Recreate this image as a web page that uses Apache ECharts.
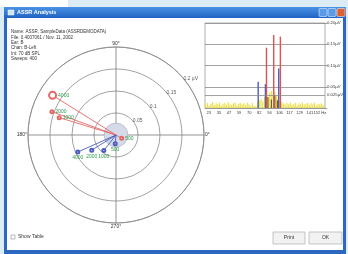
<!DOCTYPE html>
<html>
<head>
<meta charset="utf-8">
<title>ASSR Analysis</title>
<script src="https://cdn.jsdelivr.net/npm/echarts@6/dist/echarts.min.js"></script>
<style>
  html, body { margin: 0; padding: 0; background: #dbecf4; }
  #chart { width: 348px; height: 254px; }
</style>
</head>
<body>
<div id="chart"></div>
<script>
// header text
const infoLines = [
  'Name: ASSR, SampleData (ASSRDEMODATA)',
  'File: 0.4007061 / Nov. 11, 2002',
  'Ear: B',
  'Chan: B-Left',
  'Int: 70 dB SPL',
  'Sweeps: 400'
];

// polar plot
const ringValues = [0.05, 0.1, 0.15, 0.2];
const ringLabels = ['0.05', '0.1', '0.15', '0.2 µV'];
const ringLabelAngle = 40;
const noiseLevel = 0.027;

const redFreqLabels = ['4000', '2000', '1000', '500'];
const redAmp = [0.17, 0.155, 0.135, 0.015];
const redPhase = [148, 160, 163, 330];

const blueFreqLabels = ['4000', '2000', '1000', '500'];
const blueAmp = [0.095, 0.065, 0.045, 0.02];
const bluePhase = [204, 212, 232, 265];

// spectrum
const xTickValues = [23.4, 35.1, 46.8, 58.5, 70.2, 81.9, 93.6, 105.3, 117.0, 128.7, 140.4, 152.1];
const xTickLabels = ['23', '35', '47', '59', '70', '82', '94', '106', '117', '129', '141', '152 Hz'];

const noiseFreq = [20, 22, 24, 26, 28, 30, 32, 34, 36, 38, 40, 42, 44, 46, 48, 50, 52, 54, 56, 58,
  60, 62, 64, 66, 68, 70, 72, 74, 76, 78, 80, 82, 84, 86, 88, 90, 92, 94, 96, 98,
  100, 102, 104, 106, 108, 110, 112, 114, 116, 118, 120, 122, 124, 126, 128, 130, 132, 134, 136, 138,
  140, 142, 144, 146, 148, 150, 152, 154, 156];
const noiseAmp = [0.008, 0.012, 0.006, 0.010, 0.014, 0.007, 0.011, 0.009, 0.013, 0.006, 0.010, 0.012, 0.008, 0.014, 0.009, 0.007, 0.011, 0.013, 0.006, 0.010,
  0.012, 0.008, 0.011, 0.007, 0.013, 0.009, 0.006, 0.012, 0.005, 0.004, 0.014, 0.018, 0.022, 0.016, 0.026, 0.030, 0.024, 0.036, 0.040, 0.032,
  0.038, 0.028, 0.022, 0.018, 0.014, 0.011, 0.008, 0.012, 0.009, 0.013, 0.007, 0.010, 0.012, 0.006, 0.011, 0.009, 0.013, 0.008, 0.010, 0.012,
  0.007, 0.011, 0.009, 0.013, 0.006, 0.010, 0.008, 0.011, 0.007];

const darkFreq = [92, 96, 100, 103];
const darkAmp = [0.026, 0.020, 0.030, 0.018];
const blueBarFreq = [80.6, 89.0, 104.4];
const blueBarAmp = [0.062, 0.056, 0.093];
const redBarFreq = [90.2, 98.6, 106.3];
const redBarAmp = [0.142, 0.172, 0.168];

const chart = echarts.init(document.getElementById('chart'));

const FONT = 'Liberation Sans';

function pairs(xs, ys) {
  return xs.map((x, i) => [x, ys[i]]);
}

function vectorSeries(labels, amps, phases, color, isRed) {
  return labels.map((lab, i) => ({
    type: 'line',
    coordinateSystem: 'polar',
    polarIndex: 0,
    z: 5,
    silent: true,
    lineStyle: { color: color, width: 0.9 },
    itemStyle: { color: color },
    data: [
      { value: [0, phases[i]], symbol: 'none' },
      {
        value: [amps[i], phases[i]],
        symbol: 'emptyCircle',
        symbolSize: i === 0 && isRed ? 7 : 3,
        label: {
          show: true,
          formatter: lab,
          position: isRed ? 'right' : 'bottom',
          distance: 1,
          fontSize: 5,
          fontFamily: FONT,
          color: '#2f9a4a'
        }
      }
    ]
  }));
}

const graphics = [
  { type: 'rect', shape: { x: 0, y: 0, width: 348, height: 254 }, style: { fill: '#dbecf4' }, z: -10 },
  { type: 'rect', shape: { x: 0, y: 0, width: 68, height: 7 }, style: { fill: '#ffffff' }, z: -10 },
  { type: 'rect', shape: { x: 4, y: 7, width: 342, height: 247 }, style: { fill: '#2c68bf' }, z: -9 },
  {
    type: 'rect', shape: { x: 4, y: 7, width: 342, height: 11 }, z: -8,
    style: {
      fill: new echarts.graphic.LinearGradient(0, 0, 0, 1, [
        { offset: 0, color: '#4a92e4' }, { offset: 1, color: '#2063c4' }
      ])
    }
  },
  { type: 'rect', shape: { x: 7, y: 18, width: 336, height: 232 }, style: { fill: '#ffffff' }, z: -8 },
  { type: 'rect', shape: { x: 8, y: 10, width: 6, height: 5 }, style: { fill: '#cfe3f7', stroke: '#ffffff', lineWidth: 0.5 }, z: -7 },
  { type: 'text', x: 17, y: 12.5, style: { text: 'ASSR Analysis', fill: '#ffffff', font: 'bold 5.5px ' + FONT, verticalAlign: 'middle' }, z: -7 },
  { type: 'rect', shape: { x: 319, y: 8.5, width: 8, height: 8, r: 1 }, style: { fill: '#5a9ae8', stroke: '#ffffff', lineWidth: 0.5 }, z: -7 },
  { type: 'rect', shape: { x: 328, y: 8.5, width: 8, height: 8, r: 1 }, style: { fill: '#5a9ae8', stroke: '#ffffff', lineWidth: 0.5 }, z: -7 },
  { type: 'rect', shape: { x: 337, y: 8.5, width: 8, height: 8, r: 1 }, style: { fill: '#e0602e', stroke: '#ffffff', lineWidth: 0.5 }, z: -7 },
  { type: 'rect', shape: { x: 11, y: 235, width: 4, height: 4 }, style: { fill: '#ffffff', stroke: '#777777', lineWidth: 0.5 }, z: -7 },
  { type: 'text', x: 18, y: 237, style: { text: 'Show Table', fill: '#333333', font: '5px ' + FONT, verticalAlign: 'middle' }, z: -7 },
  { type: 'rect', shape: { x: 273, y: 232, width: 32, height: 12 }, style: { fill: '#f2f2f2', stroke: '#b0b0b0', lineWidth: 0.7 }, z: -7 },
  { type: 'text', x: 289, y: 238, style: { text: 'Print', fill: '#333333', font: '5px ' + FONT, align: 'center', verticalAlign: 'middle' }, z: -7 },
  { type: 'rect', shape: { x: 309, y: 232, width: 33, height: 12 }, style: { fill: '#f2f2f2', stroke: '#b0b0b0', lineWidth: 0.7 }, z: -7 },
  { type: 'text', x: 325.5, y: 238, style: { text: 'OK', fill: '#333333', font: '5px ' + FONT, align: 'center', verticalAlign: 'middle' }, z: -7 }
];
infoLines.forEach((t, i) => {
  graphics.push({
    type: 'text', x: 11, y: 32 + i * 5.4, z: -7,
    style: { text: t, fill: '#333333', font: '4.5px ' + FONT, verticalAlign: 'middle' }
  });
});

const option = {
  animation: false,
  graphic: graphics,
  polar: [
    { center: [116, 135], radius: 88 },
    { center: [116, 135], radius: 88 }
  ],
  angleAxis: [
    {
      polarIndex: 0,
      type: 'value', min: 0, max: 360, interval: 90,
      startAngle: 0, clockwise: false,
      axisLine: { lineStyle: { color: '#8a8a8a', width: 0.8 } },
      axisTick: { show: false },
      splitLine: { lineStyle: { color: '#7a7a7a', width: 0.8 } },
      axisLabel: {
        margin: 1, fontSize: 5, fontFamily: FONT, color: '#333333',
        formatter: v => (v === 360 ? '' : v + '°')
      }
    },
    {
      polarIndex: 1,
      type: 'category', data: ['noise'], show: false,
      startAngle: 0, clockwise: false
    }
  ],
  radiusAxis: [
    {
      polarIndex: 0,
      type: 'value', min: 0, max: 0.2, interval: 0.05,
      axisLine: { show: false }, axisTick: { show: false }, axisLabel: { show: false },
      splitLine: { show: true, lineStyle: { color: '#8a8a8a', width: 0.8 } }
    },
    { polarIndex: 1, type: 'value', min: 0, max: 0.2, show: false }
  ],
  grid: { left: 205, top: 23, width: 120, height: 85, show: true, borderColor: '#999999', borderWidth: 0.8 },
  xAxis: {
    type: 'value', min: 19, max: 158,
    axisLine: { lineStyle: { color: '#999999', width: 0.8 } },
    axisTick: { show: false },
    splitLine: { show: false },
    axisLabel: {
      customValues: xTickValues,
      hideOverlap: false, showMaxLabel: true, showMinLabel: true, interval: 0,
      margin: 3, fontSize: 4, fontFamily: FONT, color: '#333333',
      formatter: v => {
        const i = xTickValues.findIndex(t => Math.abs(t - v) < 0.01);
        return i >= 0 ? xTickLabels[i] : '';
      }
    }
  },
  yAxis: {
    type: 'value', position: 'right', min: 0, max: 0.2, interval: 0.05,
    axisLine: { show: false },
    axisTick: { show: true, length: 2, lineStyle: { color: '#999999' } },
    splitLine: { lineStyle: { color: '#8c8c8c', width: 0.8 } },
    axisLabel: {
      margin: 2, fontSize: 4.3, fontFamily: FONT, color: '#333333',
      formatter: v => (v === 0 ? '' : v.toFixed(2) + 'µV')
    }
  },
  series: [
    {
      type: 'bar', coordinateSystem: 'polar', polarIndex: 1,
      data: [noiseLevel], barWidth: '100%', silent: true, z: 1,
      itemStyle: { color: '#d5dbe8', borderColor: '#9a9fb0', borderWidth: 0.5 }
    },
    {
      type: 'scatter', coordinateSystem: 'polar', polarIndex: 0, silent: true,
      symbolSize: 0, z: 6,
      data: ringValues.map((r, i) => ({
        value: [r, ringLabelAngle],
        label: {
          show: true, formatter: ringLabels[i], position: 'right', distance: 0,
          fontSize: 5, fontFamily: FONT, color: '#333333'
        }
      }))
    },
    ...vectorSeries(redFreqLabels, redAmp, redPhase, '#e56767', true),
    ...vectorSeries(blueFreqLabels, blueAmp, bluePhase, '#4a5cc0', false),
    {
      type: 'bar', data: pairs(noiseFreq, noiseAmp), barWidth: 1.2, barGap: '-100%',
      itemStyle: { color: '#ece246' }, silent: true
    },
    {
      type: 'bar', data: pairs(darkFreq, darkAmp), barWidth: 1.2, barGap: '-100%',
      itemStyle: { color: '#6b5a2a' }, silent: true
    },
    {
      type: 'bar', data: pairs(blueBarFreq, blueBarAmp), barWidth: 1.4, barGap: '-100%',
      itemStyle: { color: '#4a5cc0' }, silent: true
    },
    {
      type: 'bar', data: pairs(redBarFreq, redBarAmp), barWidth: 1.4, barGap: '-100%',
      itemStyle: { color: '#e05252' }, silent: true,
      markLine: {
        silent: true, symbol: 'none',
        lineStyle: { color: '#8c8c8c', width: 0.8, type: 'solid' },
        label: {
          position: 'end', distance: 2, fontSize: 4.3, fontFamily: FONT, color: '#333333',
          formatter: '0.025µV'
        },
        data: [{ yAxis: 0.025 }]
      }
    }
  ]
};

chart.setOption(option);
</script>
</body>
</html>
